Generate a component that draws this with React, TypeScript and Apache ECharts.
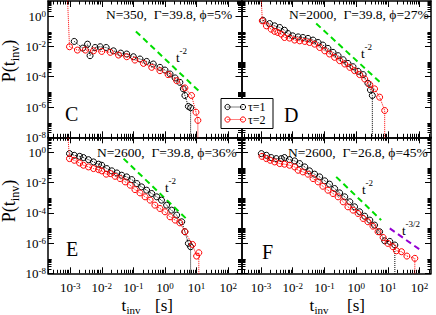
import React, { useEffect, useRef } from "react";
import * as echarts from "echarts";

// ---- data (log10 of t_inv [s] and log10 of P) ----
// Panel C: N=350, Γ=39.8, ϕ=5%
const cTau1LogT = [-2.87, -2.6, -2.45, -2.37, -2.21, -2.05, -1.86, -1.63, -1.4, -1.21, -1.0, -0.79, -0.58, -0.37, -0.16, 0.0, 0.16, 0.32, 0.47, 0.58, 0.63, 0.74, 0.81, 0.81];
const cTau1LogP = [-1.67, -2.11, -1.85, -2.61, -2.07, -2.02, -2.07, -2.29, -2.44, -2.5, -2.68, -2.83, -2.99, -3.16, -3.38, -3.56, -3.82, -4.08, -4.37, -4.8, -5.24, -5.96, -6.05, -9.5];
const cTau2LogT = [-3.1, -3.02, -2.77, -2.52, -2.26, -2.0, -1.73, -1.47, -1.21, -0.95, -0.68, -0.42, -0.16, 0.1, 0.37, 0.63, 0.84, 0.98, 1.04, 1.04];
const cTau2LogP = [2.0, -2.02, -2.24, -2.24, -2.29, -2.33, -2.39, -2.57, -2.68, -2.9, -3.12, -3.38, -3.6, -3.86, -4.26, -4.74, -5.24, -6.34, -6.88, -9.5];

// Panel D: N=2000, Γ=39.8, ϕ=27%
const dTau1LogT = [-2.94, -2.73, -2.57, -2.41, -2.26, -2.15, -2.0, -1.83, -1.68, -1.52, -1.36, -1.2, -1.05, -0.89, -0.73, -0.57, -0.41, -0.26, -0.1, 0.06, 0.22, 0.37, 0.45, 0.51, 0.51];
const dTau1LogP = [-0.27, -0.49, -0.64, -0.75, -0.93, -1.15, -1.3, -1.37, -1.41, -1.47, -1.58, -1.74, -1.91, -2.13, -2.39, -2.61, -2.88, -3.12, -3.34, -3.64, -3.86, -4.43, -4.87, -5.24, -9.5];
const dTau2LogT = [-3.01, -2.96, -2.83, -2.68, -2.57, -2.47, -2.36, -2.26, -2.1, -1.94, -1.78, -1.62, -1.47, -1.31, -1.15, -0.99, -0.84, -0.68, -0.52, -0.36, -0.2, -0.05, 0.11, 0.27, 0.43, 0.58, 0.74, 0.9, 0.9];
const dTau2LogP = [2.0, -0.31, -0.64, -0.86, -1.01, -1.08, -1.19, -1.41, -1.45, -1.58, -1.63, -1.67, -1.74, -1.85, -2.07, -2.29, -2.5, -2.72, -2.94, -3.16, -3.38, -3.6, -3.86, -4.15, -4.52, -4.8, -5.35, -6.23, -9.5];

// Panel E: N=2600, Γ=39.8, ϕ=36%
const eTau1LogT = [-3.02, -2.87, -2.7, -2.58, -2.42, -2.26, -2.1, -2.0, -1.84, -1.68, -1.52, -1.37, -1.21, -1.05, -0.89, -0.74, -0.58, -0.42, -0.26, -0.11, 0.05, 0.21, 0.37, 0.53, 0.63, 0.74, 0.81, 0.81];
const eTau1LogP = [-0.08, -0.19, -0.26, -0.34, -0.48, -0.63, -0.78, -0.85, -1.07, -1.22, -1.36, -1.51, -1.62, -1.8, -2.06, -2.28, -2.5, -2.72, -2.94, -3.16, -3.49, -3.82, -4.15, -4.59, -5.25, -6.02, -6.24, -9.5];
const eTau2LogT = [-3.1, -3.02, -2.87, -2.7, -2.58, -2.42, -2.26, -2.1, -2.0, -1.86, -1.73, -1.58, -1.42, -1.26, -1.1, -0.95, -0.79, -0.63, -0.47, -0.32, -0.16, 0.0, 0.16, 0.32, 0.47, 0.63, 0.87, 1.0, 1.07, 1.07];
const eTau2LogP = [2.0, -0.41, -0.52, -0.7, -0.85, -0.96, -1.07, -1.14, -1.22, -1.44, -1.4, -1.58, -1.73, -1.95, -2.17, -2.46, -2.68, -2.94, -3.16, -3.49, -3.71, -3.93, -4.26, -4.48, -4.66, -5.25, -6.09, -6.86, -6.64, -9.5];

// Panel F: N=2600, Γ=26.8, ϕ=45%
const fTau1LogT = [-2.99, -2.83, -2.68, -2.52, -2.36, -2.26, -2.1, -1.94, -1.78, -1.62, -1.47, -1.31, -1.15, -0.99, -0.84, -0.68, -0.52, -0.36, -0.2, -0.05, 0.11, 0.27, 0.43, 0.58, 0.74, 0.9, 1.06, 1.22, 1.22];
const fTau1LogP = [-0.08, -0.19, -0.34, -0.41, -0.41, -0.34, -0.48, -0.56, -0.74, -0.96, -1.22, -1.44, -1.62, -1.88, -2.1, -2.39, -2.68, -2.94, -3.27, -3.6, -3.93, -4.22, -4.48, -4.81, -5.25, -5.85, -5.89, -6.13, -9.5];
const fTau2LogT = [-2.97, -2.83, -2.71, -2.57, -2.41, -2.26, -2.1, -1.94, -1.83, -1.68, -1.52, -1.36, -1.2, -1.05, -0.89, -0.73, -0.57, -0.41, -0.26, -0.1, 0.06, 0.22, 0.37, 0.53, 0.69, 0.85, 1.0, 1.16, 1.27, 1.43, 1.6, 1.85, 1.85];
const fTau2LogP = [-0.26, -0.41, -0.52, -0.63, -0.74, -0.78, -0.85, -0.96, -1.18, -1.29, -1.44, -1.73, -1.95, -2.24, -2.5, -2.72, -2.94, -3.27, -3.6, -3.82, -4.04, -4.37, -4.59, -4.88, -5.25, -5.63, -6.02, -6.24, -6.51, -6.57, -6.86, -7.01, -9.5];

// power-law guides (log10 t, log10 P) end points
const cGuideT2 = [[-0.92, -1.01], [1.08, -4.96]];
const dGuideT2 = [[-1.26, -0.49], [0.79, -4.43]];
const eGuideT2 = [[-1.31, -0.41], [0.7, -4.44]];
const fGuideT2 = [[-0.63, -1.62], [0.79, -4.48]];
const fGuideT32 = [[1.06, -5.03], [2.06, -6.51]];

const titles = ["N=350,\u00a0 Γ=39.8, ϕ=5%", "N=2000,\u00a0 Γ=39.8, ϕ=27%", "N=2600,\u00a0 Γ=39.8, ϕ=36%", "N=2600,\u00a0 Γ=26.8, ϕ=45%"];
const letters = ["C", "D", "E", "F"];
const legendNames = ["τ=1", "τ=2"];
const xMajor = [-3, -2, -1, 0, 1, 2];
const yMajor = [0, -2, -4, -6, -8];

// ---- styles ----
const SERIF = "'Liberation Serif', 'Times New Roman', 'DejaVu Serif', serif";
const BLACK = "#000000";
const RED = "#ff0000";
const GREEN = "#00dd00";
const VIOLET = "#9400d3";

function pairs(t: number[], p: number[]) {
  return t.map((v, i) => [v, p[i]]);
}

function xMinors(min: number, max: number) {
  const out: number[] = [];
  for (let n = -5; n <= 3; n++)
    for (let k = 2; k <= 9; k++) {
      const v = n + Math.log10(k);
      if (v > min && v < max) out.push(v);
    }
  return out;
}
function yMinors() {
  const out: number[] = [];
  for (let n = -8; n <= 0; n += 2)
    for (let k = 2; k <= 9; k++) out.push(n + Math.log10(k));
  return out;
}

const labelRich = {
  b: { fontFamily: SERIF, fontSize: 13, lineHeight: 13, verticalAlign: "middle", color: BLACK },
  s: { fontFamily: SERIF, fontSize: 9, lineHeight: 5, verticalAlign: "top", color: BLACK },
};

const panels = [
  { left: 48, top: 1, width: 193.5, height: 136.3, xMin: -3.7, xMax: 2.42, xLab: false, yLab: true,
    tau1: pairs(cTau1LogT, cTau1LogP), tau2: pairs(cTau2LogT, cTau2LogP), guides: [{ d: cGuideT2, c: GREEN }] },
  { left: 242, top: 1, width: 189, height: 136.3, xMin: -3.6, xMax: 2.36, xLab: false, yLab: false,
    tau1: pairs(dTau1LogT, dTau1LogP), tau2: pairs(dTau2LogT, dTau2LogP), guides: [{ d: dGuideT2, c: GREEN }] },
  { left: 48, top: 137.3, width: 193.5, height: 136, xMin: -3.7, xMax: 2.42, xLab: true, yLab: true,
    tau1: pairs(eTau1LogT, eTau1LogP), tau2: pairs(eTau2LogT, eTau2LogP), guides: [{ d: eGuideT2, c: GREEN }] },
  { left: 242, top: 137.3, width: 189, height: 136, xMin: -3.6, xMax: 2.36, xLab: true, yLab: false,
    tau1: pairs(fTau1LogT, fTau1LogP), tau2: pairs(fTau2LogT, fTau2LogP),
    guides: [{ d: fGuideT2, c: GREEN }, { d: fGuideT32, c: VIOLET }] },
];

function buildOption() {
  const grid: any[] = [];
  const xAxis: any[] = [];
  const yAxis: any[] = [];
  const series: any[] = [];
  const fmt = (v: number) => `{b|10}{s|${Math.round(v)}}`;

  panels.forEach((p, i) => {
    grid.push({ left: p.left, top: p.top, width: p.width, height: p.height, outerBoundsMode: "none", containLabel: false });
    const base = { type: "value", gridIndex: i, splitLine: { show: false }, silent: true, axisPointer: { show: false } };
    const line = (show: boolean) => ({ show, onZero: false, lineStyle: { color: BLACK, width: 1.5 } });
    const minX = xMinors(p.xMin, p.xMax);
    const minY = yMinors();
    const xr = { min: p.xMin, max: p.xMax };
    const yr = { min: -8, max: 1 };
    ["bottom", "top"].forEach((pos) => {
      xAxis.push({ ...base, ...xr, position: pos, axisLine: line(true),
        axisTick: { show: true, inside: true, length: 6, customValues: xMajor, lineStyle: { color: BLACK, width: 1 } },
        axisLabel: pos === "bottom" && p.xLab
          ? { show: true, customValues: xMajor, margin: 8, formatter: fmt, rich: labelRich }
          : { show: false } });
      xAxis.push({ ...base, ...xr, position: pos, axisLine: line(false),
        axisTick: { show: true, inside: true, length: 3.5, customValues: minX, lineStyle: { color: BLACK, width: 1 } },
        axisLabel: { show: false } });
    });
    ["left", "right"].forEach((pos) => {
      yAxis.push({ ...base, ...yr, position: pos, axisLine: line(true),
        axisTick: { show: true, inside: true, length: 6, customValues: yMajor, lineStyle: { color: BLACK, width: 1 } },
        axisLabel: pos === "left" && p.yLab
          ? { show: true, customValues: yMajor, margin: 2, formatter: fmt, rich: labelRich }
          : { show: false } });
      yAxis.push({ ...base, ...yr, position: pos, axisLine: line(false),
        axisTick: { show: true, inside: true, length: 3.5, customValues: minY, lineStyle: { color: BLACK, width: 1 } },
        axisLabel: { show: false } });
    });
    const ax = i * 4;
    p.guides.forEach((g) => {
      series.push({ type: "line", xAxisIndex: ax, yAxisIndex: ax, data: g.d, symbol: "none", silent: true, z: 3,
        lineStyle: { color: g.c, width: 2, type: [6, 4] } });
    });
    [[p.tau1, BLACK], [p.tau2, RED]].forEach(([d, c]: any, k) => {
      series.push({ type: "line", name: legendNames[k], xAxisIndex: ax, yAxisIndex: ax, data: d, clip: true,
        symbol: "circle", symbolSize: 6, showSymbol: true, silent: true, z: 4 + k,
        itemStyle: { color: "rgba(0,0,0,0)", borderColor: c, borderWidth: 1 },
        lineStyle: { color: c, width: 1, type: "dotted" } });
    });
  });

  const txt = (x: number, y: number, text: string, size: number, rich?: any, align = "left", rotation = 0, lh?: number) => ({
    type: "text", x, y, z: 60, rotation, silent: true,
    style: { text, x: 0, y: 0, fontFamily: SERIF, fontSize: size, lineHeight: lh, fill: BLACK, textAlign: align, textVerticalAlign: "middle", rich },
  });
  const supRich = (m: number, s: number) => ({
    m: { fontFamily: SERIF, fontSize: m, lineHeight: m + 8, verticalAlign: "middle", fill: BLACK },
    s: { fontFamily: SERIF, fontSize: s, lineHeight: s + 1, verticalAlign: "top", fill: BLACK },
  });
  const subRich = (m: number, s: number) => ({
    m: { fontFamily: SERIF, fontSize: m, lineHeight: m + 6, verticalAlign: "middle", fill: BLACK },
    u: { fontFamily: SERIF, fontSize: s, lineHeight: s + 1, verticalAlign: "bottom", fill: BLACK },
  });

  const graphic: any[] = [
    txt(106, 14, titles[0], 13.5),
    txt(289, 14, titles[1], 13.5),
    txt(97, 152, titles[2], 13.5),
    txt(288, 152, titles[3], 13.5),
    txt(65, 114, letters[0], 20),
    txt(284, 115, letters[1], 20),
    txt(66, 249, letters[2], 20),
    txt(262, 252, letters[3], 20),
    txt(176, 57, "{m|t}{s|-2}", 13, supRich(13, 9)),
    txt(361, 53, "{m|t}{s|-2}", 13, supRich(13, 9)),
    txt(165, 187, "{m|t}{s|-2}", 13, supRich(13, 9)),
    txt(362, 189, "{m|t}{s|-2}", 13, supRich(13, 9)),
    txt(402, 230, "{m|t}{s|-3/2}", 13, supRich(13, 9)),
    txt(9, 61, "{m|P(t}{u|inv}{m|)}", 18, subRich(18, 12), "center", Math.PI / 2),
    txt(9, 201, "{m|P(t}{u|inv}{m|)}", 18, subRich(18, 12), "center", Math.PI / 2),
    // x axis titles: t, subscript inv, [s]
    txt(121.5, 305, "t", 17, undefined, "left", 0, 13),
    txt(126.5, 310, "inv", 11, undefined, "left", 0, 8),
    txt(155, 305, "[s]", 17, undefined, "left", 0, 13),
    txt(309.5, 305, "t", 17, undefined, "left", 0, 13),
    txt(314.5, 310, "inv", 11, undefined, "left", 0, 8),
    txt(347, 305, "[s]", 17, undefined, "left", 0, 13),
    { type: "rect", z: 55, silent: true, shape: { x: 221, y: 98.5, width: 52, height: 30 },
      style: { fill: "#ffffff", stroke: BLACK, lineWidth: 1 } },
  ];
  [[107, BLACK], [119.5, RED]].forEach(([y, c]: any, k) => {
    graphic.push({ type: "line", z: 56, silent: true, shape: { x1: 227.5, y1: y, x2: 243, y2: y },
      style: { stroke: c, lineWidth: 1, lineDash: [1, 1] } });
    graphic.push({ type: "circle", z: 57, silent: true, shape: { cx: 227.5, cy: y, r: 2.6 }, style: { fill: "none", stroke: c, lineWidth: 1 } });
    graphic.push({ type: "circle", z: 57, silent: true, shape: { cx: 243, cy: y, r: 2.6 }, style: { fill: "none", stroke: c, lineWidth: 1 } });
    graphic.push(txt(248, y, legendNames[k], 12));
  });

  return { animation: false, backgroundColor: "#ffffff", grid, xAxis, yAxis, series, graphic };
}

export default function App() {
  const ref = useRef<HTMLDivElement>(null);
  useEffect(() => {
    const chart = echarts.init(ref.current!, null, { renderer: "svg" });
    chart.setOption(buildOption() as any);
    return () => chart.dispose();
  }, []);
  return <div ref={ref} style={{ position: "fixed", left: 0, top: 0, width: 436, height: 315, background: "#fff" }} />;
}
